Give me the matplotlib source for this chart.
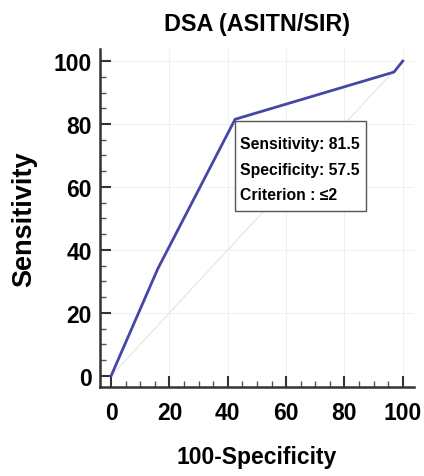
import numpy as np
import matplotlib.pyplot as plt
from matplotlib.patches import Rectangle
from matplotlib.ticker import MultipleLocator

plt.rcParams['font.family'] = ['Liberation Sans Narrow', 'Liberation Sans', 'DejaVu Sans']
plt.rcParams['font.weight'] = 'bold'

# ROC curve
fpr = [0, 16, 42.5, 97, 100]          # 100-Specificity
tpr = [0, 34, 81.5, 96.5, 100]        # Sensitivity
ticks = [0, 20, 40, 60, 80, 100]
box_lines = ["Sensitivity: 81.5", "Specificity: 57.5", "Criterion : \u22642"]

fig = plt.figure(figsize=(4.24, 4.77), dpi=100)
ax = fig.add_axes([0.236, 0.187, 0.740, 0.708])

ax.set_xlim(-3.8, 103.8)
ax.set_ylim(-3.5, 103.8)

# grid and reference diagonal
for t in ticks[1:]:
    ax.axvline(t, color='#f0f0f0', lw=0.8, zorder=0)
    ax.axhline(t, color='#f0f0f0', lw=0.8, zorder=0)
ax.plot([0, 100], [0, 100], color='#e4e4e4', lw=0.8, zorder=1)

ax.plot(fpr, tpr, color='#4646a6', lw=2, zorder=3, clip_on=False)

# annotation box at the cut-off point
ax.add_patch(Rectangle((42.5, 52.4), 44.8, 28.6, fc='white', ec='#555555', lw=1, zorder=4))
for i, line in enumerate(box_lines):
    ax.text(44.2, 72.4 - i * 8.15, line, fontsize=11.3, fontweight='bold',
            va='baseline', ha='left', zorder=5)

for s in ['top', 'right']:
    ax.spines[s].set_visible(False)
for s in ['left', 'bottom']:
    ax.spines[s].set_color('#333333')
    ax.spines[s].set_linewidth(1.8)

ax.set_xticks(ticks)
ax.set_yticks(ticks)
ax.xaxis.set_minor_locator(MultipleLocator(5))
ax.yaxis.set_minor_locator(MultipleLocator(5))
ax.tick_params(which='major', direction='in', length=8, width=1.5, color='#333333', labelsize=16.5)
ax.tick_params(which='minor', direction='in', length=4, width=1.0, color='#555555')
ax.tick_params(axis='x', pad=10)
ax.tick_params(axis='y', pad=6)

ax.set_title("DSA (ASITN/SIR)", fontsize=16.8, fontweight='bold', pad=14)
ax.set_xlabel("100-Specificity", fontsize=16.5, fontweight='bold', labelpad=15)
ax.set_ylabel("Sensitivity", fontsize=19.5, fontweight='bold', labelpad=12)

plt.savefig("out.png", dpi=100)
